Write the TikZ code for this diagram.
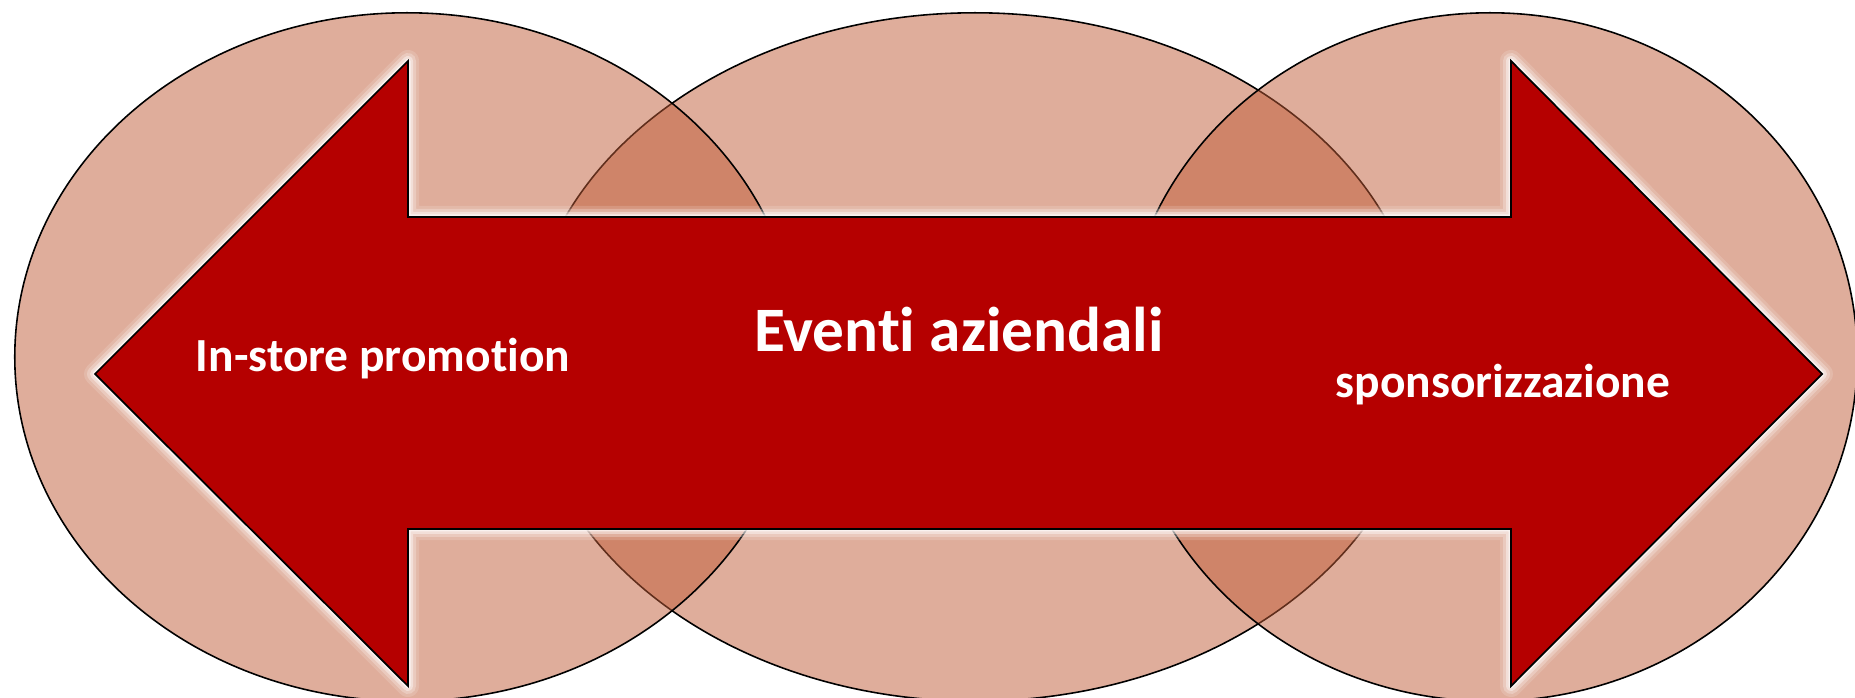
\documentclass[tikz,border=0pt]{standalone}
\usepackage{fontspec}
\setmainfont{Carlito}[Ligatures={NoCommon,NoContextual}]
\definecolor{bubblecol}{RGB}{193,93,57}
\definecolor{arrowred}{RGB}{181,0,0}
\begin{document}
\begin{tikzpicture}[x=0.01cm,y=-0.01cm,
  bubble/.style={fill=bubblecol, fill opacity=0.5, draw=black, draw opacity=1, line width=0.45pt},
  arrowbody/.style={fill=arrowred, draw=black, line width=0.5pt, line join=miter},
  glow/.style={draw=white, line join=round},
  lbl/.style={text=white, font=\bfseries\fontsize{13.5}{16}\selectfont, inner sep=0pt},
  biglbl/.style={text=white, font=\bfseries\fontsize{18}{22}\selectfont, inner sep=0pt}]
\clip (0,0) rectangle (1855,698);
\fill[white] (0,0) rectangle (1855,698);
% bubbles
\draw[bubble] (975,357) ellipse [x radius=4.48cm, y radius=3.44cm];
\draw[bubble] (407,357) ellipse [x radius=3.92cm, y radius=3.44cm];
\draw[bubble] (1490,357) ellipse [x radius=3.67cm, y radius=3.44cm];
% arrow corners
\coordinate (tl) at (95,374);
\coordinate (ht1) at (408,61);
\coordinate (s1) at (408,217);
\coordinate (s2) at (1511,217);
\coordinate (ht2) at (1511,61);
\coordinate (tr) at (1822,374);
\coordinate (hb2) at (1511,686);
\coordinate (s3) at (1511,529);
\coordinate (s4) at (408,529);
\coordinate (hb1) at (408,686);
% glow
\foreach \w/\o in {0.22/0.15, 0.16/0.25, 0.10/0.4, 0.05/0.6}{
  \draw[glow, line width=\w cm, draw opacity=\o]
    (tl) -- (ht1) -- (s1) -- (s2) -- (ht2) -- (tr) -- (hb2) -- (s3) -- (s4) -- (hb1) -- cycle;
}
\draw[arrowbody] (tl) -- (ht1) -- (s1) -- (s2) -- (ht2) -- (tr) -- (hb2) -- (s3) -- (s4) -- (hb1) -- cycle;
% labels
\node[biglbl, anchor=base] (main) at (959,352) {Eventi aziendali};
\node[lbl, anchor=base] (instore) at (383,372) {In-store promotion};
\node[lbl, anchor=base] (sponsor) at (1503,398) {sponsorizzazione};
\end{tikzpicture}
\end{document}
